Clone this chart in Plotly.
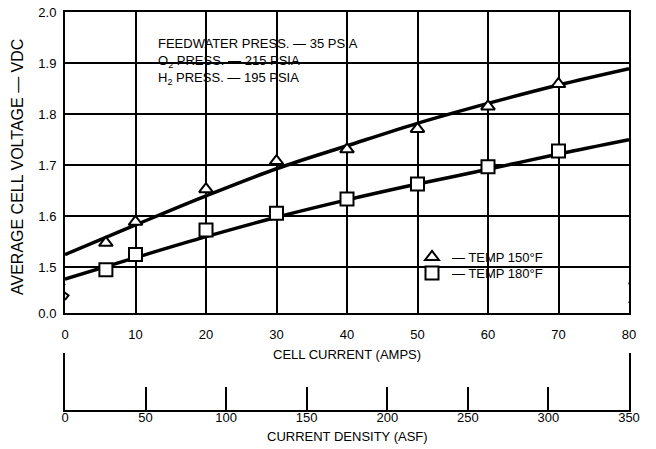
import plotly.graph_objects as go

# ---- data ----
amps_pts = [5.8, 10, 20, 30, 40, 50, 60, 70]
volt_150F = [1.548, 1.589, 1.653, 1.708, 1.731, 1.771, 1.815, 1.859]
volt_180F = [1.495, 1.525, 1.573, 1.606, 1.634, 1.663, 1.697, 1.728]

curve_amps = [0, 10, 20, 30, 40, 50, 60, 70, 80]
curve_150F = [1.525, 1.583, 1.640, 1.693, 1.738, 1.782, 1.821, 1.857, 1.889]
curve_180F = [1.477, 1.519, 1.560, 1.598, 1.632, 1.663, 1.692, 1.722, 1.750]

amp_ticks = [0, 10, 20, 30, 40, 50, 60, 70, 80]
volt_tickvals = [1.4105, 1.5, 1.6, 1.7, 1.8, 1.9, 2.0]
volt_ticktext = ["0.0", "1.5", "1.6", "1.7", "1.8", "1.9", "2.0"]
asf_ticks = [0, 50, 100, 150, 200, 250, 300, 350]

legend_150 = "— TEMP 150°F"
legend_180 = "— TEMP 180°F"
press_lines = ["FEEDWATER PRESS. — 35 PSIA",
               "O<sub>2</sub> PRESS. — 215 PSIA",
               "H<sub>2</sub> PRESS. — 195 PSIA"]

FONT = "Liberation Sans, Arial, sans-serif"
W, H = 656, 449
L, R, T, B = 65, 27, 12, 39
PH = H - T - B

def py(pix):  # pixel y -> paper y
    return (H - B - pix) / PH

def px(pix):
    return (pix - L) / (W - L - R)

fig = go.Figure()

fig.add_trace(go.Scatter(x=curve_amps, y=curve_150F, mode="lines", line=dict(color="black", width=3.5, shape="spline"),
                         showlegend=False, hoverinfo="skip"))
fig.add_trace(go.Scatter(x=curve_amps, y=curve_180F, mode="lines", line=dict(color="black", width=3.5, shape="spline"),
                         showlegend=False, hoverinfo="skip"))
fig.add_trace(go.Scatter(x=amps_pts, y=volt_150F, mode="markers", name=legend_150, legend="legend",
                         marker=dict(symbol="triangle-up", size=12, color="white", line=dict(color="black", width=2))))
fig.add_trace(go.Scatter(x=amps_pts, y=volt_180F, mode="markers", name=legend_180, legend="legend2",
                         marker=dict(symbol="square", size=13, color="white", line=dict(color="black", width=2))))

# invisible trace to anchor the second (ASF) axis
fig.add_trace(go.Scatter(x=[0, 350], y=[0, 1], xaxis="x2", yaxis="y2", mode="markers",
                         marker=dict(opacity=0), showlegend=False, hoverinfo="skip"))

leg_common = dict(xanchor="left", yanchor="middle", bgcolor="rgba(0,0,0,0)",
                  font=dict(size=13), tracegroupgap=0, borderwidth=0)

fig.update_layout(
    width=W, height=H,
    margin=dict(l=L, r=R, t=T, b=B, autoexpand=False),
    paper_bgcolor="white", plot_bgcolor="white",
    font=dict(family=FONT, size=13, color="black"),
    xaxis=dict(range=[0, 80], tickvals=amp_ticks, showgrid=True, gridcolor="black", gridwidth=1.5,
               showline=True, linecolor="black", linewidth=2, mirror=True, ticks="",
               zeroline=False, ticklabelstandoff=8, anchor="y", automargin=False),
    yaxis=dict(range=[1.4105, 2.0], tickvals=volt_tickvals, ticktext=volt_ticktext,
               showgrid=True, gridcolor="black", gridwidth=1.5,
               showline=True, linecolor="black", linewidth=2, mirror=True, ticks="",
               zeroline=False, domain=[py(313), 1.0], ticklabelstandoff=4, automargin=False),
    xaxis2=dict(range=[0, 350], tickvals=asf_ticks, anchor="y2", showgrid=False,
                showline=True, linecolor="black", linewidth=2, ticks="inside", ticklen=23,
                tickwidth=2, tickcolor="black", zeroline=False, automargin=False,
                ticklabelstandoff=-6),
    yaxis2=dict(domain=[0, py(353)], range=[0, 1], showline=True, linecolor="black", linewidth=2,
                mirror=True, showticklabels=False, ticks="", showgrid=False, zeroline=False,
                automargin=False),
    legend=dict(x=px(412), y=py(257), **leg_common),
    legend2=dict(x=px(412), y=py(273), **leg_common),
    shapes=[
        dict(type="rect", xref="paper", yref="paper", x0=px(424), x1=px(566), y0=py(283), y1=py(247),
             fillcolor="white", line=dict(width=0), layer="between"),
        dict(type="rect", xref="paper", yref="paper", x0=px(148), x1=px(404), y0=py(92), y1=py(35),
             fillcolor="white", line=dict(width=0), layer="between"),
        dict(type="path", xref="x", yref="y", path="M 0,1.468 L -0.7,1.457 L 0.5,1.445 L 0,1.436",
             line=dict(color="black", width=2)),
        dict(type="path", xref="x", yref="y", path="M 80,1.470 L 80.3,1.461 L 81.2,1.449 L 80.3,1.437 L 80,1.430",
             line=dict(color="black", width=2)),
    ],
    annotations=[
        dict(text="AVERAGE CELL VOLTAGE — VDC", xref="paper", yref="paper", x=px(17), y=py(167),
             textangle=-90, showarrow=False, font=dict(size=16), xanchor="center", yanchor="middle"),
        dict(text="CELL CURRENT (AMPS)", xref="paper", yref="paper", x=0.5, y=py(354),
             showarrow=False, xanchor="center", yanchor="middle"),
        dict(text="CURRENT DENSITY (ASF)", xref="paper", yref="paper", x=0.5, y=py(437),
             showarrow=False, xanchor="center", yanchor="middle"),
        dict(text="<br>".join(press_lines), xref="paper", yref="paper", x=px(153), y=py(61),
             showarrow=False, xanchor="left", yanchor="middle", align="left", borderpad=4),
    ],
)

fig.write_html("out.html", config={"displayModeBar": False},
               post_script="document.body.style.margin='0';")
